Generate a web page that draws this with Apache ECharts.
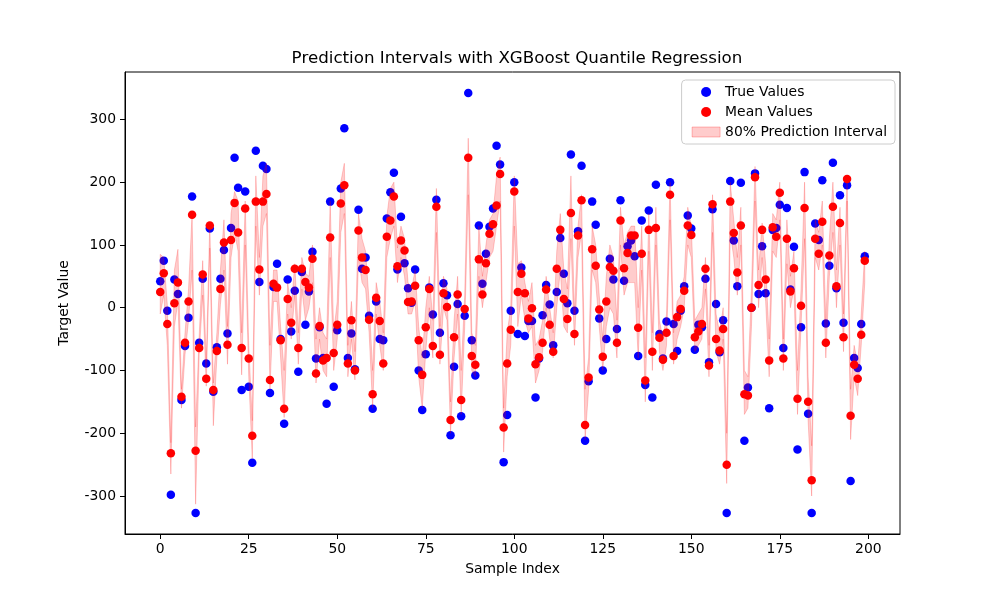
<!DOCTYPE html>
<html><head><meta charset="utf-8">
<script src="https://cdn.jsdelivr.net/npm/echarts@6/dist/echarts.min.js"></script>
<style>html,body{margin:0;padding:0;background:#fff}#c{width:1000px;height:600px}</style>
</head><body><div id="c"></div>
<script>
const trueValues = [
42, 75, -5, -298, 45, 22, -147, -61, -16, 177,
-327, -56, 46, -89, 126, -134, -63, 46, 92, -41,
127, 239, 191, -131, 185, -126, -247, 250, 41, 226,
221, -136, 33, 70, -50, -185, 45, -38, 27, -102,
57, -27, 26, 89, -81, -31, -80, -153, 169, -126,
-36, 190, 286, -80, -41, -98, 156, 62, 80, -13,
-161, 10, -50, -52, 142, 184, 215, 61, 145, 71,
31, 8, 61, -100, -163, -74, 32, -11, 172, -40,
39, 20, -203, -94, 6, -173, -13, 342, -52, -108,
131, 38, 86, 129, 158, 258, 228, -246, -171, -5,
200, -42, 64, -45, -21, -21, -143, -81, -12, 36,
5, -60, 25, 111, 54, 7, 244, -5, 122, 226,
-212, -117, 169, 132, -17, -100, -50, 78, 45, -34,
171, 43, 98, 107, 82, -77, 139, -123, 155, -143,
196, -42, -81, -22, 200, -26, -69, -5, 34, 147,
126, -67, -27, -31, 46, -87, 157, 6, -71, -20,
-327, 202, 107, 34, 199, -212, -127, 0, 214, 22,
98, 23, -160, 124, 127, 164, -64, 159, 29, 97,
-226, -31, 216, -169, -327, 134, 108, 203, -25, 67,
231, 31, 179, -24, 195, -276, -80, -96, -26, 82];

const meanValues = [
25, 55, -26, -232, 7, 40, -142, -56, 10, 148,
-228, -64, 53, -113, 131, -131, -69, 30, 104, -59,
108, 167, 120, -64, 158, -81, -204, 169, 61, 169,
181, -115, 38, 32, -52, -161, 14, -24, 62, -64,
62, 41, 32, 78, -105, -29, -84, -80, 112, -72,
-27, 166, 195, -89, -20, -100, 123, 80, 60, -19,
-138, 16, -21, -89, 113, 139, 177, 66, 107, 91,
9, 10, 35, -52, -107, -31, 30, -61, 161, -75,
23, 1, -179, -47, 21, -147, -2, 239, -77, -91,
77, 21, 71, 118, 133, 163, 213, -191, -89, -35,
185, 25, 54, 23, -17, -1, -90, -79, -56, 29,
-27, -70, 62, 124, 14, -18, 151, -42, 115, 171,
-187, -111, 93, 67, -3, -78, 10, 65, 59, -56,
139, 63, 87, 115, 115, -32, 86, -116, 124, -70,
127, -48, -83, -40, 180, -77, -15, -2, 27, 131,
116, -47, -38, -26, 62, -92, 165, -50, -68, -34,
-250, 169, 119, 56, 131, -138, -140, 0, 208, 36,
124, 45, -84, 128, 113, 183, -81, 110, 26, 63,
-145, 3, 159, -150, -275, 110, 86, 137, -56, 83,
161, 34, 135, -47, 205, -172, -91, -113, -43, 75];

const lowerValues = [
-10, 20, -60, -265, -30, 10, -160, -75, -20, 60,
-313, -75, 20, -125, 95, -188, -80, 5, 60, -90,
80, 120, 90, -107, 100, -110, -240, 130, 20, 130,
150, -130, 10, 10, -80, -175, -10, -50, 20, -90,
30, -20, 0, 40, -120, -50, -100, -110, 80, -100,
-50, 120, 150, -110, -50, -115, 80, 40, 30, -40,
-160, -10, -60, -100, 80, 110, 130, 40, 80, 50,
-10, -10, 10, -110, -160, -70, 0, -80, 120, -90,
0, -20, -200, -80, -10, -170, -30, 180, -100, -110,
50, 0, 40, 80, 90, 130, 170, -230, -110, -60,
130, -30, 20, -20, -40, -30, -120, -100, -70, 0,
-50, -80, 0, 60, -30, -40, 110, -60, 80, 120,
-210, -130, 60, 40, -30, -100, -30, 0, -10, -80,
100, 20, 40, 40, 40, -80, 60, -150, 90, -100,
100, -70, -100, -60, 140, -90, -50, -30, 0, 100,
80, -70, -60, -50, 30, -110, 120, -70, -90, -50,
-280, 120, 80, 20, 100, -170, -160, -30, 170, 0,
80, 10, -110, 90, 80, 140, -100, 70, 0, 30,
-170, -30, 110, -180, -300, 80, 60, 100, -80, 50,
120, 0, 100, -70, 170, -210, -110, -140, -60, 40];

const upperValues = [
85, 80, 5, -215, 60, 93, -130, -40, 30, 150,
-190, -45, 75, -85, 135, -120, -40, 60, 140, -30,
150, 185, 170, -40, 170, -60, -180, 210, 80, 210,
230, -60, 60, 60, -30, -100, 40, 0, 70, -40,
80, 55, 50, 100, -50, 0, -40, -50, 170, -40,
10, 200, 230, -60, 10, -70, 150, 110, 90, 10,
-100, 40, 10, -40, 145, 190, 200, 95, 130, 110,
40, 30, 60, -30, -80, 0, 50, -20, 190, -30,
50, 30, -150, -20, 50, -100, 20, 270, -40, -60,
130, 50, 100, 140, 150, 210, 240, -160, -40, 0,
210, 70, 75, 40, 10, 40, -60, -50, -20, 50,
0, -40, 90, 150, 60, 30, 210, -10, 130, 180,
-130, -80, 130, 100, 20, -50, 50, 100, 80, -20,
160, 100, 120, 130, 130, 0, 130, -80, 150, -40,
160, -20, -50, -10, 200, -40, 10, 20, 50, 160,
130, -20, -10, 0, 80, -60, 180, -10, -40, 0,
-200, 200, 140, 80, 160, -100, -110, 30, 225, 60,
135, 70, -50, 150, 140, 200, -50, 140, 50, 90,
-100, 30, 200, -110, -220, 140, 120, 170, -20, 110,
200, 60, 160, -10, 210, -130, -60, -90, -10, 90];

const xTicks = [0, 25, 50, 75, 100, 125, 150, 175, 200];
const yTicks = [-300, -200, -100, 0, 100, 200, 300];

const FONT = 'DejaVu Sans';
const BAND = 'rgba(255,0,0,0.2)';
const pts = a => a.map((v, i) => [i, v]);
const bandRows = lowerValues.map((l, i) => [i, l, upperValues[i]]);

function renderBand(params, api) {
  if (params.dataIndex !== 0) return null;
  const up = upperValues.map((v, i) => api.coord([i, v]));
  const lo = lowerValues.map((v, i) => api.coord([i, v]));
  const poly = up.concat(lo.slice().reverse());
  return {
    type: 'group',
    children: [
      {type: 'polygon', shape: {points: poly}, style: {fill: BAND, stroke: BAND, lineWidth: 1}}
    ]
  };
}

const chart = echarts.init(document.getElementById('c'), null, {renderer: 'canvas'});
chart.setOption({
  animation: false,
  textStyle: {fontFamily: FONT},
  title: {
    text: 'Prediction Intervals with XGBoost Quantile Regression',
    left: 512, top: 45, textAlign: 'center',
    textStyle: {fontSize: 16.7, fontWeight: 'normal', color: '#000', fontFamily: FONT}
  },
  grid: {left: 125, right: 100, top: 72, bottom: 66, show: true, borderColor: '#000', borderWidth: 1, backgroundColor: 'transparent'},
  legend: {
    orient: 'vertical', right: 105, top: 80,
    data: [
      {name: 'True Values', icon: 'circle'},
      {name: 'Mean Values', icon: 'circle'},
      {name: '80% Prediction Interval', icon: 'rect', itemStyle: {color: BAND, borderColor: 'rgba(255,0,0,0.25)', borderWidth: 1}}
    ],
    itemWidth: 28, itemHeight: 10, itemGap: 6,
    padding: [5, 8, 5, 10],
    borderColor: '#cccccc', borderWidth: 1, borderRadius: 4,
    backgroundColor: 'rgba(255,255,255,0.8)',
    textStyle: {fontSize: 13.9, color: '#000', fontFamily: FONT}
  },
  xAxis: {
    type: 'value', min: -9.95, max: 208.95,
    axisLine: {show: true, onZero: false, lineStyle: {color: '#000'}},
    axisTick: {show: true, customValues: xTicks, length: 5, lineStyle: {color: '#000'}},
    axisLabel: {customValues: xTicks, color: '#000', fontSize: 13.9, margin: 8, fontFamily: FONT},
    splitLine: {show: false},
    name: 'Sample Index', nameLocation: 'middle', nameGap: 28,
    nameTextStyle: {fontSize: 13.9, color: '#000', fontFamily: FONT}
  },
  yAxis: {
    type: 'value', min: -360.5, max: 375.5,
    axisLine: {show: true, onZero: false, lineStyle: {color: '#000'}},
    axisTick: {show: true, customValues: yTicks, length: 5, lineStyle: {color: '#000'}},
    axisLabel: {customValues: yTicks, color: '#000', fontSize: 13.9, margin: 9, fontFamily: FONT},
    splitLine: {show: false},
    name: 'Target Value', nameLocation: 'middle', nameGap: 54,
    nameTextStyle: {fontSize: 13.9, color: '#000', fontFamily: FONT}
  },
  series: [
    {name: 'True Values', type: 'scatter', data: pts(trueValues), symbolSize: 8.5, itemStyle: {color: '#0000ff', opacity: 1}, z: 2},
    {name: 'Mean Values', type: 'scatter', data: pts(meanValues), symbolSize: 8.5, itemStyle: {color: '#ff0000', opacity: 1}, z: 3},
    {name: '80% Prediction Interval', type: 'custom', data: bandRows, renderItem: renderBand,
     encode: {x: 0, y: [1, 2]}, itemStyle: {color: BAND}, silent: true, z: 5}
  ]
});
</script></body></html>
